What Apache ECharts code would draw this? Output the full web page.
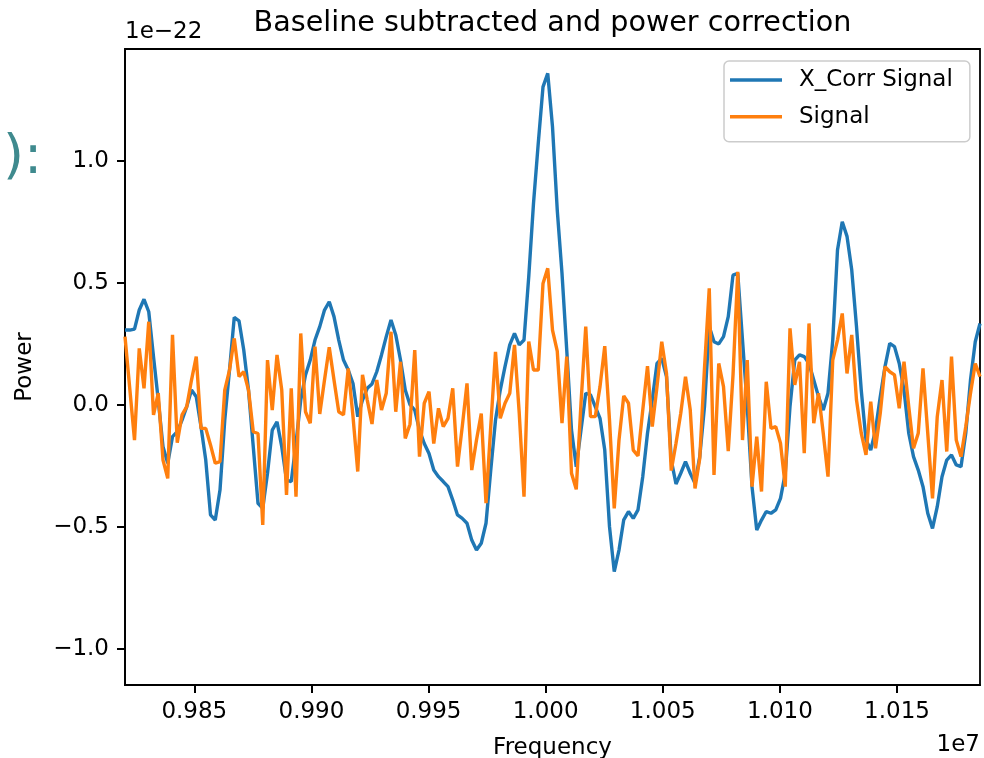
<!DOCTYPE html>
<html><head><meta charset="utf-8">
<script src="https://cdn.jsdelivr.net/npm/echarts@6/dist/echarts.min.js"></script>
<style>html,body{margin:0;padding:0;background:#fff}#c{width:984px;height:758px}</style>
</head><body><div id="c"></div>
<script>
// ---- data (power values in units of 1e-22, frequency in Hz) ----
const seriesNames = ['X_Corr Signal', 'Signal'];
const titleText = 'Baseline subtracted and power correction';
const freqStartHz = 9820400;   // first sample
const freqStepHz = 2028;       // sample spacing
const xCorrSignal = [0.306,0.306,0.310,0.388,0.432,0.381,0.197,0.019,-0.172,-0.240,
-0.131,-0.111,-0.063,-0.008,0.060,0.033,-0.090,-0.227,-0.452,-0.473,
-0.350,-0.063,0.142,0.358,0.344,0.224,0.060,-0.172,-0.404,-0.425,
-0.281,-0.104,-0.070,-0.172,-0.309,-0.315,-0.158,0.019,0.122,0.183,
0.265,0.320,0.388,0.422,0.361,0.265,0.183,0.142,0.087,-0.049,
0.019,0.067,0.085,0.135,0.204,0.279,0.347,0.286,0.183,0.060,
0.000,-0.022,-0.104,-0.159,-0.200,-0.268,-0.295,-0.315,-0.336,-0.391,
-0.452,-0.466,-0.486,-0.555,-0.596,-0.568,-0.486,-0.268,-0.063,0.060,
0.156,0.245,0.292,0.245,0.265,0.525,0.825,1.071,1.303,1.358,
1.139,0.798,0.538,0.224,-0.104,-0.254,-0.104,0.047,0.040,-0.008,
-0.056,-0.186,-0.500,-0.684,-0.596,-0.472,-0.438,-0.466,-0.431,-0.295,
-0.117,0.019,0.169,0.190,0.115,-0.227,-0.325,-0.281,-0.233,-0.281,
-0.322,-0.213,-0.008,0.320,0.258,0.249,0.279,0.361,0.531,0.538,
0.265,-0.008,-0.336,-0.514,-0.473,-0.438,-0.445,-0.431,-0.384,-0.281,
-0.008,0.183,0.204,0.197,0.169,0.101,0.033,-0.022,0.047,0.265,
0.634,0.750,0.690,0.552,0.320,0.060,-0.145,-0.186,-0.104,0.033,
0.156,0.251,0.238,0.169,0.060,-0.117,-0.213,-0.268,-0.336,-0.445,
-0.507,-0.418,-0.295,-0.227,-0.206,-0.247,-0.254,-0.117,0.101,0.258,
0.333];
const signal = [0.279,0.067,-0.145,0.231,0.067,0.340,-0.042,0.047,-0.227,-0.302,
0.286,-0.156,-0.042,-0.008,0.101,0.197,-0.097,-0.097,-0.165,-0.240,
-0.233,0.060,0.142,0.272,0.115,0.135,0.060,-0.111,-0.118,-0.493,
0.183,-0.022,0.204,0.060,-0.370,0.067,-0.377,0.292,-0.029,-0.076,
0.238,-0.038,0.101,0.235,0.101,-0.029,-0.042,0.149,-0.049,-0.274,
0.122,0.019,-0.079,0.101,-0.022,0.047,0.299,-0.029,0.176,-0.138,
-0.080,0.224,-0.213,0.006,0.053,-0.159,-0.015,-0.090,-0.056,0.067,
-0.254,-0.090,0.087,-0.268,-0.145,-0.036,-0.404,-0.090,0.217,-0.056,
0.006,0.047,0.245,-0.036,-0.377,0.259,0.142,0.142,0.497,0.559,
0.306,0.220,-0.076,0.197,-0.281,-0.347,0.006,0.320,-0.049,-0.049,
0.074,0.240,-0.063,-0.425,-0.145,0.036,0.006,-0.186,-0.210,-0.022,
0.158,-0.090,0.074,0.258,0.128,-0.270,-0.158,-0.035,0.115,-0.022,
-0.343,-0.220,0.150,0.477,-0.288,0.169,0.074,-0.190,0.120,0.545,
-0.145,0.183,-0.336,-0.131,-0.356,0.094,-0.097,-0.090,-0.158,-0.336,
0.313,0.081,0.176,-0.199,0.333,-0.076,0.047,-0.117,-0.295,0.183,
0.265,0.374,0.128,0.286,0.019,-0.117,-0.206,0.012,-0.179,-0.035,
0.156,0.135,0.122,-0.015,0.176,-0.008,-0.179,-0.117,0.149,-0.117,
-0.384,-0.049,0.101,-0.192,0.197,-0.145,-0.213,-0.090,0.047,0.169,
0.115];
const xTicks = [0.985, 0.990, 0.995, 1.000, 1.005, 1.010, 1.015]; // ×1e7 Hz
const yTicks = [-1.0, -0.5, 0.0, 0.5, 1.0];                      // ×1e-22
const xRange = [0.98204, 1.018544]; // ×1e7
const yRange = [-1.149, 1.458];     // ×1e-22

// ---- build ----
const freqs = xCorrSignal.map((_, i) => freqStartHz + i * freqStepHz);
const FONT = '"DejaVu Sans", sans-serif';
const fmtY = v => (v < 0 ? '\u2212' : '') + Math.abs(v).toFixed(1);
const axisLineStyle = {show: true, onZero: false, lineStyle: {color: '#000', width: 1.8}};

const chart = echarts.init(document.getElementById('c'), null, {renderer: 'canvas'});
chart.setOption({
  animation: false,
  backgroundColor: '#ffffff',
  title: {
    text: titleText, left: 552.5, top: 9.5, textAlign: 'center', padding: 0,
    textStyle: {fontSize: 28.6, fontWeight: 'normal', fontFamily: FONT, color: '#000'}
  },
  legend: {
    data: seriesNames, orient: 'vertical', left: 724, top: 61,
    padding: [7.5, 17, 13.5, 6], itemWidth: 52, itemHeight: 3.5, itemGap: 13.7,
    icon: 'rect',
    backgroundColor: 'rgba(255,255,255,0.8)', borderColor: '#cccccc', borderWidth: 1.5, borderRadius: 5,
    textStyle: {fontSize: 23, fontFamily: FONT, color: '#000', padding: [0, 0, 0, 12]}
  },
  grid: {left: 125, right: 4, top: 49, bottom: 73, show: true, borderColor: '#000', borderWidth: 1.8,
    backgroundColor: 'transparent', containLabel: false, outerBoundsMode: 'none'},
  xAxis: {
    type: 'value', min: xRange[0] * 1e7, max: xRange[1] * 1e7,
    name: 'Frequency', nameLocation: 'middle', nameGap: 52,
    nameTextStyle: {fontSize: 23, fontFamily: FONT, color: '#000'},
    axisLine: axisLineStyle,
    axisTick: {show: true, inside: false, length: 8, customValues: xTicks.map(t => t * 1e7), lineStyle: {color: '#000', width: 2}},
    axisLabel: {show: true, margin: 16, fontSize: 23, fontFamily: FONT, color: '#000',
      customValues: xTicks.map(t => t * 1e7), formatter: v => (v / 1e7).toFixed(3)},
    splitLine: {show: false}
  },
  yAxis: {
    type: 'value', min: yRange[0], max: yRange[1],
    axisLine: axisLineStyle,
    axisTick: {show: true, inside: false, length: 8, customValues: yTicks, lineStyle: {color: '#000', width: 2}},
    axisLabel: {show: true, margin: 16, fontSize: 23, fontFamily: FONT, color: '#000',
      customValues: yTicks, formatter: fmtY},
    splitLine: {show: false}
  },
  series: [
    {name: seriesNames[0], type: 'line', data: freqs.map((f, i) => [f, xCorrSignal[i]]),
     showSymbol: false, symbol: 'none', color: '#1f77b4', lineStyle: {width: 3.4, color: '#1f77b4'}, clip: true},
    {name: seriesNames[1], type: 'line', data: freqs.map((f, i) => [f, signal[i]]),
     showSymbol: false, symbol: 'none', color: '#ff7f0e', lineStyle: {width: 3.4, color: '#ff7f0e'}, clip: true}
  ],
  graphic: [
    {type: 'text', x: 125, y: 31.7, style: {text: '1e\u221222', font: '23px ' + FONT, fill: '#000', align: 'left', verticalAlign: 'middle'}},
    {type: 'text', x: 980, y: 745, style: {text: '1e7', font: '23px ' + FONT, fill: '#000', align: 'right', verticalAlign: 'middle'}},
    {type: 'text', x: 25.5, y: 367, rotation: Math.PI / 2, style: {text: 'Power', font: '23px ' + FONT, fill: '#000', align: 'center', verticalAlign: 'middle'}},
    {type: 'text', x: 3, y: 159, style: {text: '):', font: '54px ' + FONT, fill: '#3f8a8e', align: 'left', verticalAlign: 'middle'}}
  ]
});
</script></body></html>
